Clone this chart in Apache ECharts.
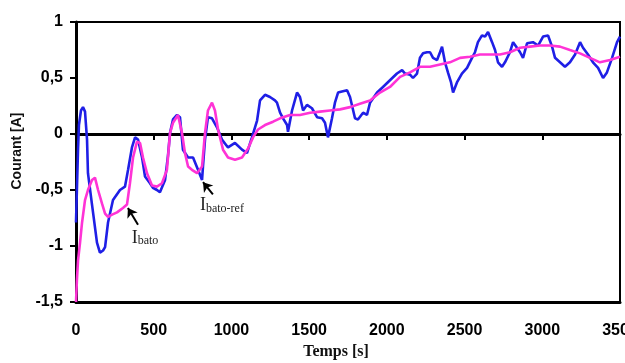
<!DOCTYPE html>
<html>
<head>
<meta charset="utf-8">
<script src="https://cdn.jsdelivr.net/npm/echarts@6/dist/echarts.min.js"></script>
<style>html,body{margin:0;padding:0;background:#fff;}#c{width:625px;height:363px;}</style>
</head>
<body>
<div id="c"></div>
<script>
// Ibato (measured current), blue
var blueT = [0,13,19,32,45,58,71,77,103,135,154,174,187,206,238,283,315,335,360,380,399,425,444,476,495,521,540,573,592,605,624,650,669,688,721,753,785,811,817,830,849,875,907,939,978,1023,1068,1100,1132,1165,1184,1216,1248,1280,1293,1313,1332,1358,1364,1390,1422,1441,1461,1486,1518,1551,1583,1602,1621,1647,1666,1686,1711,1744,1763,1795,1814,1847,1872,1892,1937,1975,2020,2065,2098,2117,2149,2168,2194,2213,2233,2258,2278,2297,2323,2342,2355,2374,2393,2413,2426,2451,2483,2516,2548,2567,2586,2612,2632,2651,2677,2696,2715,2741,2760,2792,2812,2837,2857,2876,2902,2940,2973,3005,3037,3063,3082,3114,3146,3178,3211,3243,3262,3294,3326,3359,3391,3416,3449,3481,3500];
var blueY = [-0.79,-0.14,0.08,0.21,0.24,0.20,-0.05,-0.35,-0.63,-0.97,-1.06,-1.04,-1.01,-0.79,-0.59,-0.50,-0.47,-0.32,-0.12,-0.03,-0.05,-0.21,-0.38,-0.44,-0.48,-0.50,-0.52,-0.41,-0.19,0.01,0.13,0.17,0.15,-0.14,-0.21,-0.21,-0.32,-0.41,-0.29,-0.05,0.15,0.14,0.06,-0.05,-0.12,-0.08,-0.14,-0.17,-0.03,0.12,0.30,0.35,0.33,0.30,0.28,0.19,0.14,0.08,0.02,0.21,0.37,0.33,0.21,0.26,0.23,0.15,0.14,0.10,-0.03,0.14,0.28,0.37,0.38,0.39,0.33,0.14,0.13,0.19,0.17,0.28,0.37,0.42,0.48,0.54,0.57,0.54,0.53,0.50,0.54,0.68,0.72,0.73,0.73,0.68,0.66,0.73,0.78,0.64,0.55,0.46,0.37,0.46,0.54,0.59,0.68,0.73,0.82,0.88,0.87,0.91,0.82,0.75,0.64,0.60,0.64,0.73,0.82,0.77,0.73,0.68,0.81,0.82,0.79,0.87,0.88,0.78,0.68,0.64,0.60,0.64,0.71,0.82,0.77,0.71,0.64,0.59,0.50,0.55,0.68,0.82,0.87];
// Ibato-ref (reference current), magenta
var pinkT = [0,6,13,26,39,58,77,103,122,142,167,187,206,232,264,302,328,347,367,392,412,431,457,489,521,553,585,605,624,656,682,701,721,746,779,811,830,849,875,894,914,946,978,1023,1068,1107,1139,1171,1216,1268,1313,1377,1441,1506,1570,1634,1699,1763,1827,1892,1956,2020,2085,2149,2213,2278,2342,2406,2471,2535,2599,2664,2728,2792,2857,2921,2985,3050,3114,3178,3243,3307,3371,3436,3500];
var pinkY = [-1.5,-1.30,-1.13,-0.97,-0.79,-0.59,-0.50,-0.41,-0.39,-0.50,-0.62,-0.71,-0.74,-0.72,-0.70,-0.66,-0.63,-0.44,-0.21,-0.07,-0.08,-0.21,-0.35,-0.46,-0.47,-0.44,-0.32,0.01,0.10,0.17,0.01,-0.17,-0.29,-0.32,-0.35,-0.29,0.01,0.21,0.28,0.21,0.04,-0.14,-0.21,-0.23,-0.21,-0.13,-0.03,0.04,0.08,0.11,0.14,0.17,0.17,0.19,0.20,0.21,0.22,0.24,0.27,0.30,0.37,0.42,0.51,0.55,0.60,0.60,0.62,0.64,0.68,0.69,0.71,0.71,0.71,0.73,0.77,0.78,0.79,0.79,0.78,0.75,0.72,0.68,0.64,0.66,0.69];
var xTicks = [0, 3500, 500];      // min, max, interval
var yTicks = [-1.5, 1, 0.5];
// annotations: [textX, textY, arrowTailX, arrowTailY, arrowHeadX, arrowHeadY]
var annIbato = [444, -0.93, 399, -0.81, 334, -0.66];
var annIref  = [939, -0.64, 881, -0.54, 817, -0.43];

function pairs(t, y) { return t.map(function (v, i) { return [v, y[i]]; }); }

var chart = echarts.init(document.getElementById('c'), null, {renderer: 'canvas'});
var labelFont = {color: '#000', fontFamily: 'Liberation Sans, Arial', fontWeight: 'bold', fontSize: 16};
var serif = 'Liberation Serif, Times New Roman, serif';
function annot(a, main, sub) {
  return {
    coord: [a[0], a[1]], symbolSize: 0,
    label: {show: true, position: 'inside', formatter: '{i|' + main + '}{s|' + sub + '}',
      rich: {
        i: {fontFamily: serif, fontSize: 18, color: '#222', verticalAlign: 'bottom'},
        s: {fontFamily: serif, fontSize: 12, color: '#222', verticalAlign: 'bottom'}
      }}
  };
}
function arrow(a) {
  return [{coord: [a[2], a[3]], symbol: 'none'}, {coord: [a[4], a[5]], symbol: 'arrow'}];
}

chart.setOption({
  animation: false,
  backgroundColor: '#fff',
  grid: {left: 76, right: 5, top: 22, bottom: 61, containLabel: false, outerBoundsMode: 'none',
    show: true, borderColor: '#000', borderWidth: 2, backgroundColor: 'transparent'},
  xAxis: [{
    type: 'value', min: xTicks[0], max: xTicks[1], interval: xTicks[2], position: 'bottom',
    axisLine: {onZero: false, lineStyle: {color: '#000', width: 3}},
    axisTick: {show: false}, splitLine: {show: false},
    axisLabel: Object.assign({margin: 21, showMaxLabel: true, showMinLabel: true, hideOverlap: false,
      formatter: function (v) { return String(v); }}, labelFont),
    name: 'Temps [s]', nameLocation: 'middle', nameGap: 38,
    nameTextStyle: {fontFamily: serif, fontWeight: 'bold', fontSize: 16, color: '#111', padding: [0, 24, 0, 0]}
  }, {
    type: 'value', min: xTicks[0], max: xTicks[1], interval: xTicks[2], position: 'bottom', offset: -168,
    axisLine: {onZero: false, lineStyle: {color: '#000', width: 3}},
    axisTick: {show: true, length: 6, lineStyle: {color: '#000', width: 2}},
    axisLabel: {show: false}, splitLine: {show: false}
  }],
  yAxis: {
    type: 'value', min: yTicks[0], max: yTicks[1], interval: yTicks[2],
    axisLine: {show: true, onZero: false, lineStyle: {color: '#000', width: 3}},
    axisTick: {show: true, length: 6, lineStyle: {color: '#000', width: 2}},
    splitLine: {show: false},
    axisLabel: Object.assign({margin: 13, formatter: function (v) { return String(v).replace('.', ','); }}, labelFont),
    name: 'Courant [A]', nameLocation: 'middle', nameGap: 49, nameRotate: 90,
    nameTextStyle: {fontFamily: 'Liberation Sans, Arial', fontWeight: 'bold', fontSize: 14, color: '#111', padding: [0, 0, 0, 22]}
  },
  series: [{
    name: 'Ibato', type: 'line', xAxisIndex: 0, data: pairs(blueT, blueY), showSymbol: false,
    lineStyle: {color: '#1f1fe6', width: 2.6}, z: 2
  }, {
    name: 'Ibato-ref', type: 'line', xAxisIndex: 0, data: pairs(pinkT, pinkY), showSymbol: false,
    lineStyle: {color: '#ff33d6', width: 2.6}, z: 3,
    markPoint: {silent: true, data: [annot(annIbato, 'I', 'bato'), annot(annIref, 'I', 'bato-ref')]},
    markLine: {silent: true, symbolSize: 9, label: {show: false},
      lineStyle: {color: '#000', width: 2, type: 'solid'},
      data: [arrow(annIbato), arrow(annIref)]}
  }]
});
</script>
</body>
</html>
